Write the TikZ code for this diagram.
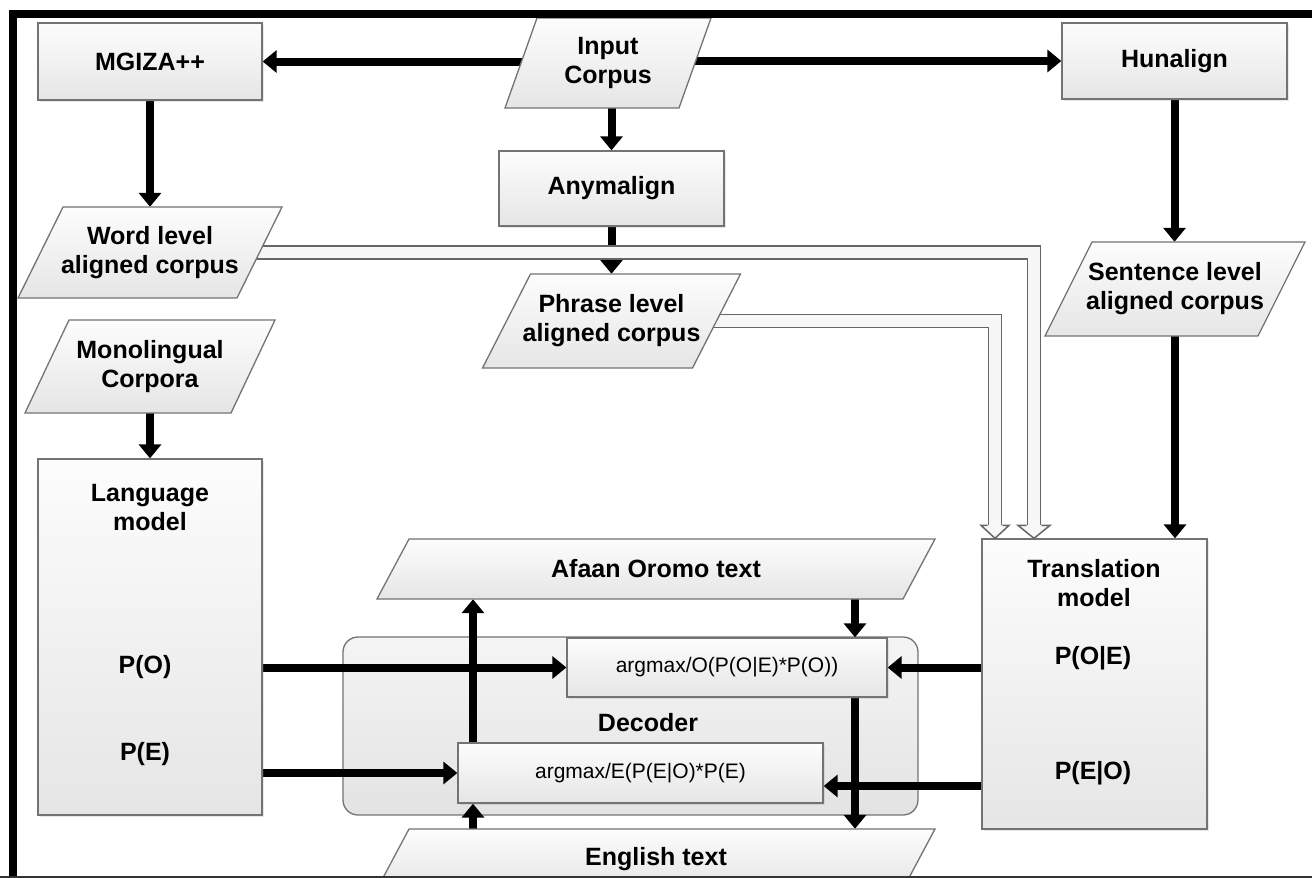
\documentclass[tikz,border=0pt]{standalone}
\usepackage{fontspec}
\setmainfont{Liberation Sans}
\usetikzlibrary{arrows.meta,shadows,calc}
\pgfdeclarelayer{deco}
\pgfdeclarelayer{bg}
\pgfdeclarelayer{front}
\pgfsetlayers{deco,bg,main,front}
\newcommand\diabf{\fontsize{25}{29}\selectfont\bfseries}
\newcommand\dianf{\fontsize{21}{25}\selectfont}
% name, cx, cy, edge width, height, horizontal shift, text
\newcommand\paranode[7]{%
  \path[parafill] ({#2-#4/2-#6/2},{#3+#5/2}) -- ({#2+#4/2-#6/2},{#3+#5/2}) -- ({#2+#4/2+#6/2},{#3-#5/2}) -- ({#2-#4/2+#6/2},{#3-#5/2}) -- cycle;
  \node[lbl, minimum width=#4pt, minimum height=#5pt] (#1) at (#2,#3) {#7};}
\begin{document}
\begin{tikzpicture}[x=1pt,y=-1pt,
  lbl/.style={inner sep=0pt, align=center, font=\diabf, text=black},
  box/.style={draw=black!55, line width=1.3pt, top color=gray!2, bottom color=gray!20,
    inner sep=0pt, align=center, font=\diabf,
    drop shadow={opacity=0.18, shadow xshift=2pt, shadow yshift=-2pt}},
  parafill/.style={draw=black!55, line width=1.3pt, line join=miter, top color=gray!2, bottom color=gray!20},
  decobox/.style={draw=black!55, line width=1.3pt, rounded corners=15pt, top color=gray!8, bottom color=gray!22},
  arr/.style={line width=8pt, -{Triangle[length=14pt,width=22pt]}},
  tube/.style={draw=black!60, line width=1.5pt, double=gray!6, double distance=11.5pt, line join=miter},
  tubeline/.style={draw=black!60, line width=1.5pt, line join=miter}]
\useasboundingbox (0,0) rectangle (1312,878);
\begin{pgfonlayer}{deco}
  \fill[white] (0,0) rectangle (1312,878);
  \node[decobox, minimum width=575pt, minimum height=178pt] (dec) at (630.5,726) {};
\end{pgfonlayer}

% boxes and data shapes
\node[box, minimum width=224pt, minimum height=77pt] (mgiza) at (150,61.5) {MGIZA++};
\node[box, minimum width=225pt, minimum height=76pt] (hun) at (1174.5,61) {Hunalign};
\node[box, minimum width=225pt, minimum height=75pt] (any) at (611.5,188.5) {Anymalign};
\paranode{inp}{608}{63}{174}{90}{32}{Input\\Corpus}
\paranode{word}{150}{252.5}{219}{91}{45}{Word level\\aligned corpus}
\paranode{phr}{611.5}{321}{210}{94}{48}{Phrase level\\aligned corpus}
\paranode{sent}{1175}{289}{213}{94}{47}{Sentence level\\aligned corpus}
\paranode{mon}{150}{366.5}{206}{93}{44}{Monolingual\\Corpora}
\node[box, minimum width=224pt, minimum height=356pt] (lm) at (150,637) {};
\node[lbl] (lmt) at (150,507.5) {Language\\model};
\node[lbl] (po) at (145,667) {P(O)};
\node[lbl] (pe) at (145,754) {P(E)};
\node[box, minimum width=225pt, minimum height=290pt] (tm) at (1094.5,684) {};
\node[lbl] (tmt) at (1094,583.5) {Translation\\model};
\node[lbl] (poe) at (1093,658) {P(O|E)};
\node[lbl] (peo) at (1093,773) {P(E|O)};
\paranode{afa}{656}{569}{526}{60}{32}{Afaan Oromo text}
\paranode{eng}{656}{859}{526}{60}{32}{English text}
\node[lbl] (decl) at (648,723) {Decoder};
\node[box, font=\dianf, minimum width=320pt, minimum height=59pt] (ao) at (727,667.5) {argmax/O(P(O|E)*P(O))};
\node[box, font=\dianf, minimum width=365pt, minimum height=60pt] (ae) at (640.5,773) {argmax/E(P(E|O)*P(E)};

\coordinate (cx1) at (855,0);
\coordinate (cx2) at (473,0);
\coordinate (cx3) at (1034,0);
\coordinate (cx4) at (995,0);

\begin{pgfonlayer}{bg}
  \draw[arr] (mgiza.east -| inp.center) -- (mgiza.east);
  \draw[arr] (hun.west -| inp.center) -- (hun.west);
  \draw[arr] (any.north |- inp.south) -- (any.north);
  \draw[arr] (any.south) -- (any.south |- phr.north);
  \draw[arr] (mgiza.south) -- (word.north);
  \draw[arr] (hun.south) -- (hun.south |- sent.north);
  \draw[arr] (mon.south) -- (lm.north);
  \draw[arr] (sent.south) -- (sent.south |- tm.north);
  \draw[arr] (lm.east |- ao.west) -- (ao.west);
  \draw[arr] (lm.east |- ae.west) -- (ae.west);
  \draw[arr] (tm.west |- ao.east) -- (ao.east);
  \draw[arr] ($(tm.west |- ae.east)+(0,13)$) -- ($(ae.east)+(0,13)$);
  \draw[arr] (afa.south -| cx1) -- (ao.north -| cx1);
  \draw[arr] (ao.south -| cx1) -- (eng.north -| cx1);
  \draw[arr] (ae.north -| cx2) -- (afa.south -| cx2);
  \draw[arr] (eng.north -| cx2) -- (ae.south -| cx2);
  % hollow connectors
  \draw[tube] (word.center) -- (word.center -| cx3) -- ($(cx3 |- tm.north)+(0,-13)$);
  \draw[tube] (phr.center) -- (phr.center -| cx4) -- ($(cx4 |- tm.north)+(0,-13)$);
\end{pgfonlayer}

% hollow arrow heads
\fill[gray!6] (cx3 |- tm.north) -- ++(-16,-13) -- ++(32,0) -- cycle;
\draw[tubeline] ($(cx3 |- tm.north)+(-7.4,-13)$) -- ++(-8.6,0) -- (cx3 |- tm.north) -- ++(16,-13) -- ++(-8.6,0);
\fill[gray!6] (cx4 |- tm.north) -- ++(-14,-13) -- ++(28,0) -- cycle;
\draw[tubeline] ($(cx4 |- tm.north)+(-7.4,-13)$) -- ++(-6.6,0) -- (cx4 |- tm.north) -- ++(14,-13) -- ++(-6.6,0);

\begin{pgfonlayer}{front}
  \draw[line width=8pt] (9,14) -- (1312,14);
  \draw[line width=8pt] (13,10) -- (13,878);
  \draw[line width=2pt, black!80] (0,877) -- (1312,877);
\end{pgfonlayer}
\end{tikzpicture}
\end{document}
